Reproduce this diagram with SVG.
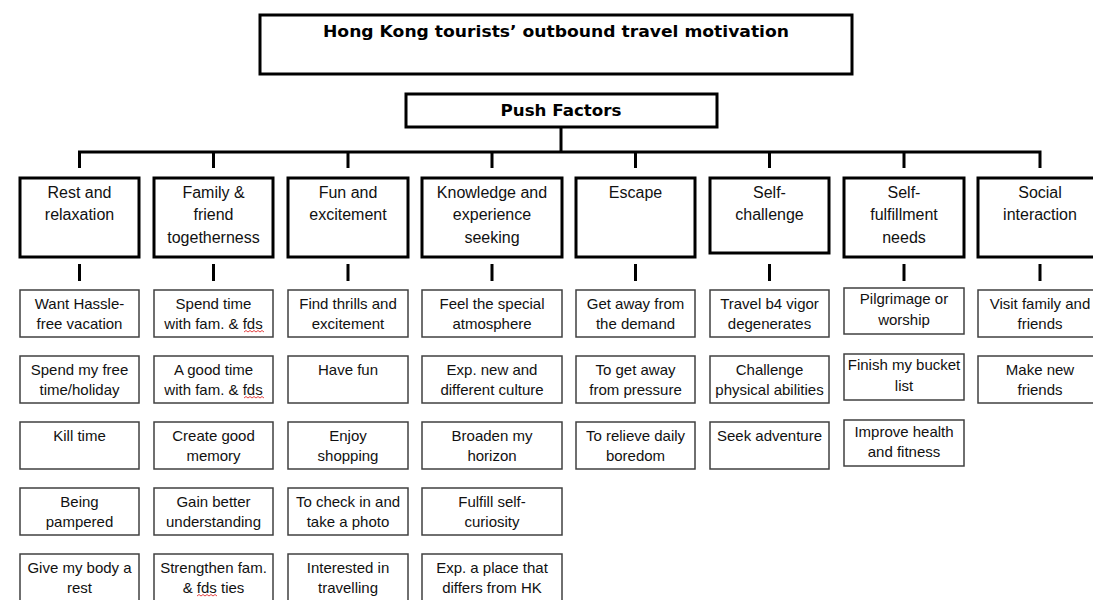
<svg xmlns="http://www.w3.org/2000/svg" width="1093" height="600" viewBox="0 0 1093 600">
  <style>
    .bold-box { fill: #fff; stroke: #000; stroke-width: 3; }
    .cat-box { fill: #fff; stroke: #000; stroke-width: 3; }
    .item-box { fill: #fff; stroke: #404040; stroke-width: 1.5; }
    .head { font-family: "DejaVu Sans", "Liberation Sans", sans-serif; font-weight: bold; font-size: 16px; fill: #000; text-anchor: middle; }
    .cat { font-family: "Liberation Sans", Arial, sans-serif; font-size: 16px; fill: #111; text-anchor: middle; }
    .item { font-family: "Liberation Sans", Arial, sans-serif; font-size: 15px; fill: #111; text-anchor: middle; }
    .wire { stroke: #000; stroke-width: 3; fill: none; }
    .squiggle { stroke: #e03030; stroke-width: 0.9; fill: none; }
  </style>

  <!-- title -->
  <g id="title">
    <rect class="bold-box" x="260" y="15" width="592" height="59"/>
    <text class="head" x="556" y="37" textLength="466" lengthAdjust="spacingAndGlyphs">Hong Kong tourists’ outbound travel motivation</text>
  </g>

  <g id="push-factors">
    <rect class="bold-box" x="406" y="94" width="311" height="33"/>
    <text class="head" x="561" y="116" textLength="121" lengthAdjust="spacingAndGlyphs">Push Factors</text>
  </g>

  <!-- tree lines -->
  <g id="connectors">
    <path class="wire" d="M561 127 V152"/>
    <path class="wire" d="M79.5 168 V152 H1040 V168"/>
    <path class="wire" d="M213.5 152 V168 M348 152 V168 M492 152 V168 M635.5 152 V168 M769.5 152 V168 M904 152 V168"/>
    <path class="wire" d="M79.5 264 V281 M213.5 264 V281 M348 264 V281 M492 264 V281 M635.5 264 V281 M769.5 264 V281 M904 264 V281 M1040 264 V281"/>
  </g>

  <!-- category nodes -->
  <g id="cat-rest">
    <rect class="cat-box" x="20" y="178" width="119" height="79"/>
    <text class="cat" x="79.5" y="198">Rest and</text>
    <text class="cat" x="79.5" y="220">relaxation</text>
  </g>
  <g id="cat-family">
    <rect class="cat-box" x="154" y="178" width="119" height="79"/>
    <text class="cat" x="213.5" y="198">Family &amp;</text>
    <text class="cat" x="213.5" y="220">friend</text>
    <text class="cat" x="213.5" y="243">togetherness</text>
  </g>
  <g id="cat-fun">
    <rect class="cat-box" x="288" y="178" width="120" height="79"/>
    <text class="cat" x="348" y="198">Fun and</text>
    <text class="cat" x="348" y="220">excitement</text>
  </g>
  <g id="cat-knowledge">
    <rect class="cat-box" x="422" y="178" width="140" height="79"/>
    <text class="cat" x="492" y="198">Knowledge and</text>
    <text class="cat" x="492" y="220">experience</text>
    <text class="cat" x="492" y="243">seeking</text>
  </g>
  <g id="cat-escape">
    <rect class="cat-box" x="576" y="178" width="119" height="79"/>
    <text class="cat" x="635.5" y="198">Escape</text>
  </g>
  <g id="cat-challenge">
    <rect class="cat-box" x="710" y="178" width="119" height="75"/>
    <text class="cat" x="769.5" y="198">Self-</text>
    <text class="cat" x="769.5" y="220">challenge</text>
  </g>
  <g id="cat-fulfillment">
    <rect class="cat-box" x="844" y="178" width="120" height="79"/>
    <text class="cat" x="904" y="198">Self-</text>
    <text class="cat" x="904" y="220">fulfillment</text>
    <text class="cat" x="904" y="243">needs</text>
  </g>
  <g id="cat-social">
    <rect class="cat-box" x="978" y="178" width="122" height="79"/>
    <text class="cat" x="1040" y="198">Social</text>
    <text class="cat" x="1040" y="220">interaction</text>
  </g>

  <!-- column 1: rest and relaxation -->
  <g id="rest-1"><rect class="item-box" x="20" y="290" width="119" height="47"/><text class="item" x="79.5" y="309">Want Hassle-</text><text class="item" x="79.5" y="329">free vacation</text></g>
  <g id="rest-2"><rect class="item-box" x="20" y="356" width="119" height="47"/><text class="item" x="79.5" y="375">Spend my free</text><text class="item" x="79.5" y="395">time/holiday</text></g>
  <g id="rest-3"><rect class="item-box" x="20" y="422" width="119" height="47"/><text class="item" x="79.5" y="441">Kill time</text></g>
  <g id="rest-4"><rect class="item-box" x="20" y="488" width="119" height="47"/><text class="item" x="79.5" y="507">Being</text><text class="item" x="79.5" y="527">pampered</text></g>
  <g id="rest-5"><rect class="item-box" x="20" y="554" width="119" height="47"/><text class="item" x="79.5" y="573">Give my body a</text><text class="item" x="79.5" y="593">rest</text></g>

  <!-- column 2: family & friend togetherness -->
  <g id="family-1"><rect class="item-box" x="154" y="290" width="119" height="47"/><text class="item" x="213.5" y="309">Spend time</text><text class="item" x="213.5" y="329">with fam. &amp; fds</text></g>
  <g id="family-2"><rect class="item-box" x="154" y="356" width="119" height="47"/><text class="item" x="213.5" y="375">A good time</text><text class="item" x="213.5" y="395">with fam. &amp; fds</text></g>
  <g id="family-3"><rect class="item-box" x="154" y="422" width="119" height="47"/><text class="item" x="213.5" y="441">Create good</text><text class="item" x="213.5" y="461">memory</text></g>
  <g id="family-4"><rect class="item-box" x="154" y="488" width="119" height="47"/><text class="item" x="213.5" y="507">Gain better</text><text class="item" x="213.5" y="527">understanding</text></g>
  <g id="family-5"><rect class="item-box" x="154" y="554" width="119" height="47"/><text class="item" x="213.5" y="573">Strengthen fam.</text><text class="item" x="213.5" y="593">&amp; fds ties</text></g>

  <!-- spelling marks under "fds" -->
  <g id="spell-marks">
    <path class="squiggle" d="M244 332 l2 -1.5 l2 1.5 l2 -1.5 l2 1.5 l2 -1.5 l2 1.5 l2 -1.5 l2 1.5 l2 -1.5 l2 1.5"/>
    <path class="squiggle" d="M244 398 l2 -1.5 l2 1.5 l2 -1.5 l2 1.5 l2 -1.5 l2 1.5 l2 -1.5 l2 1.5 l2 -1.5 l2 1.5"/>
    <path class="squiggle" d="M197 596 l2 -1.5 l2 1.5 l2 -1.5 l2 1.5 l2 -1.5 l2 1.5 l2 -1.5 l2 1.5 l2 -1.5 l2 1.5"/>
  </g>

  <!-- column 3: fun and excitement -->
  <g id="fun-1"><rect class="item-box" x="288" y="290" width="120" height="47"/><text class="item" x="348" y="309">Find thrills and</text><text class="item" x="348" y="329">excitement</text></g>
  <g id="fun-2"><rect class="item-box" x="288" y="356" width="120" height="47"/><text class="item" x="348" y="375">Have fun</text></g>
  <g id="fun-3"><rect class="item-box" x="288" y="422" width="120" height="47"/><text class="item" x="348" y="441">Enjoy</text><text class="item" x="348" y="461">shopping</text></g>
  <g id="fun-4"><rect class="item-box" x="288" y="488" width="120" height="47"/><text class="item" x="348" y="507">To check in and</text><text class="item" x="348" y="527">take a photo</text></g>
  <g id="fun-5"><rect class="item-box" x="288" y="554" width="120" height="47"/><text class="item" x="348" y="573">Interested in</text><text class="item" x="348" y="593">travelling</text></g>

  <!-- column 4: knowledge and experience seeking -->
  <g id="know-1"><rect class="item-box" x="422" y="290" width="140" height="47"/><text class="item" x="492" y="309">Feel the special</text><text class="item" x="492" y="329">atmosphere</text></g>
  <g id="know-2"><rect class="item-box" x="422" y="356" width="140" height="47"/><text class="item" x="492" y="375">Exp. new and</text><text class="item" x="492" y="395">different culture</text></g>
  <g id="know-3"><rect class="item-box" x="422" y="422" width="140" height="47"/><text class="item" x="492" y="441">Broaden my</text><text class="item" x="492" y="461">horizon</text></g>
  <g id="know-4"><rect class="item-box" x="422" y="488" width="140" height="47"/><text class="item" x="492" y="507">Fulfill self-</text><text class="item" x="492" y="527">curiosity</text></g>
  <g id="know-5"><rect class="item-box" x="422" y="554" width="140" height="47"/><text class="item" x="492" y="573">Exp. a place that</text><text class="item" x="492" y="593">differs from HK</text></g>

  <!-- column 5: escape -->
  <g id="escape-1"><rect class="item-box" x="576" y="290" width="119" height="47"/><text class="item" x="635.5" y="309">Get away from</text><text class="item" x="635.5" y="329">the demand</text></g>
  <g id="escape-2"><rect class="item-box" x="576" y="356" width="119" height="47"/><text class="item" x="635.5" y="375">To get away</text><text class="item" x="635.5" y="395">from pressure</text></g>
  <g id="escape-3"><rect class="item-box" x="576" y="422" width="119" height="47"/><text class="item" x="635.5" y="441">To relieve daily</text><text class="item" x="635.5" y="461">boredom</text></g>

  <!-- column 6: self-challenge -->
  <g id="challenge-1"><rect class="item-box" x="710" y="290" width="119" height="47"/><text class="item" x="769.5" y="309">Travel b4 vigor</text><text class="item" x="769.5" y="329">degenerates</text></g>
  <g id="challenge-2"><rect class="item-box" x="710" y="356" width="119" height="47"/><text class="item" x="769.5" y="375">Challenge</text><text class="item" x="769.5" y="395">physical abilities</text></g>
  <g id="challenge-3"><rect class="item-box" x="710" y="422" width="119" height="47"/><text class="item" x="769.5" y="441">Seek adventure</text></g>

  <!-- column 7: self-fulfillment needs -->
  <g id="fulfil-1"><rect class="item-box" x="844" y="288" width="120" height="46"/><text class="item" x="904" y="304">Pilgrimage or</text><text class="item" x="904" y="325">worship</text></g>
  <g id="fulfil-2"><rect class="item-box" x="844" y="354" width="120" height="46"/><text class="item" x="904" y="370">Finish my bucket</text><text class="item" x="904" y="391">list</text></g>
  <g id="fulfil-3"><rect class="item-box" x="844" y="420" width="120" height="46"/><text class="item" x="904" y="437">Improve health</text><text class="item" x="904" y="457">and fitness</text></g>

  <!-- column 8: social interaction -->
  <g id="social-1"><rect class="item-box" x="978" y="290" width="122" height="47"/><text class="item" x="1040" y="309">Visit family and</text><text class="item" x="1040" y="329">friends</text></g>
  <g id="social-2"><rect class="item-box" x="978" y="356" width="122" height="47"/><text class="item" x="1040" y="375">Make new</text><text class="item" x="1040" y="395">friends</text></g>
</svg>
